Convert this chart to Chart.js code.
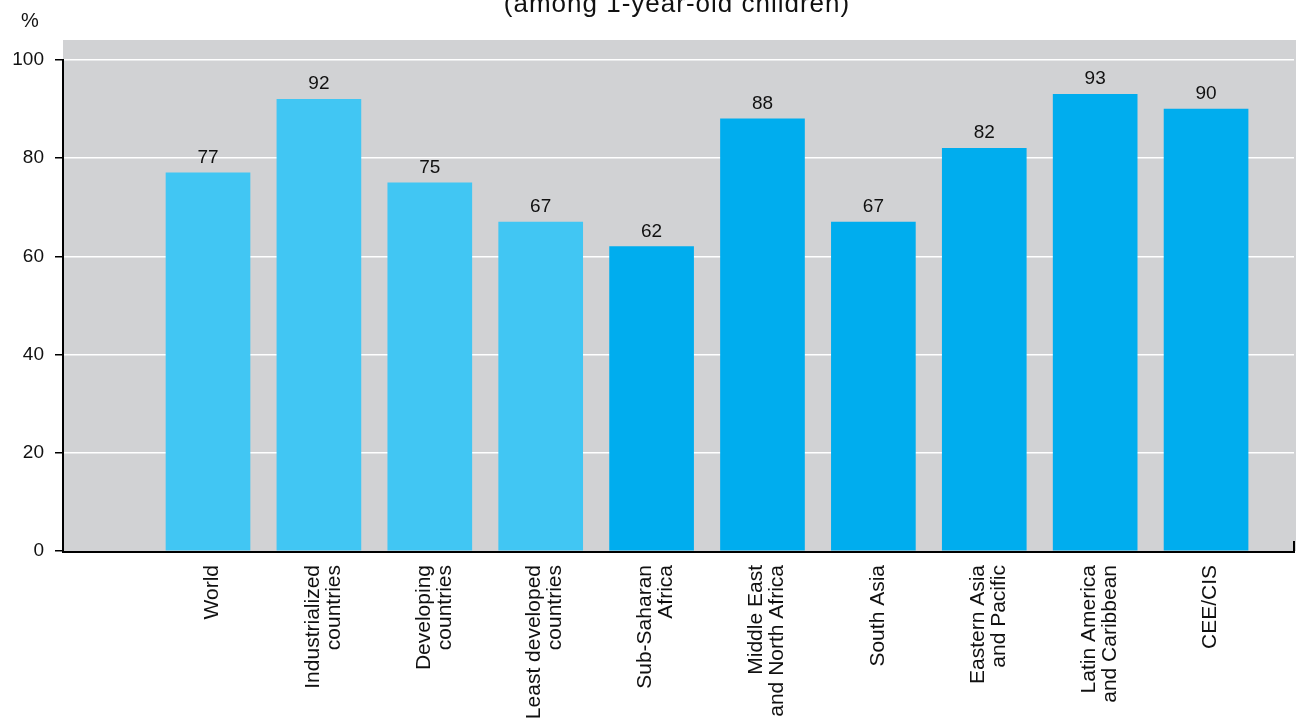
<!DOCTYPE html>
<html>
<head>
<meta charset="utf-8">
<script src="https://cdn.jsdelivr.net/npm/chart.js@4.4.1/dist/chart.umd.min.js"></script>
<style>
  html, body { margin: 0; padding: 0; background: #ffffff; }
  #wrap { width: 1296px; height: 719px; position: relative; }
</style>
</head>
<body>
<div id="wrap"><canvas id="c" width="1296" height="719"></canvas></div>
<script>
// ---- data ----
const categories = [
  ['World'],
  ['Industrialized', 'countries'],
  ['Developing', 'countries'],
  ['Least developed', 'countries'],
  ['Sub-Saharan', 'Africa'],
  ['Middle East', 'and North Africa'],
  ['South Asia'],
  ['Eastern Asia', 'and Pacific'],
  ['Latin America', 'and Caribbean'],
  ['CEE/CIS']
];
const values = [77, 92, 75, 67, 62, 88, 67, 82, 93, 90];
const groups = ['aggregate', 'aggregate', 'aggregate', 'aggregate',
                'region', 'region', 'region', 'region', 'region', 'region'];
const yTicks = [0, 20, 40, 60, 80, 100];
const titleText = '(among 1-year-old children)';
const unitText = '%';

// ---- styles ----
const FONT = '"Liberation Sans", Arial, Helvetica, sans-serif';
const groupColors = { aggregate: '#41C6F3', region: '#00ADEE' };
const plotGray = '#D1D2D4';

const points = values.map((v, i) => ({ x: i + 1, y: v }));

const decor = {
  id: 'decor',
  beforeDraw(chart) {
    const { ctx, chartArea: a } = chart;
    ctx.save();
    ctx.fillStyle = plotGray;
    ctx.fillRect(a.left, a.top - 20, chart.width - a.left, a.bottom - a.top + 20);
    ctx.restore();
  },
  afterDatasetsDraw(chart) {
    const { ctx, chartArea: a } = chart;
    ctx.save();
    // bottom axis line + right end tick
    ctx.strokeStyle = '#000';
    ctx.lineWidth = 2;
    ctx.beginPath();
    ctx.moveTo(a.left - 1, a.bottom + 1);
    ctx.lineTo(a.right + 1, a.bottom + 1);
    ctx.moveTo(a.right, a.bottom + 1);
    ctx.lineTo(a.right, a.bottom - 10);
    ctx.stroke();
    // value labels
    const meta = chart.getDatasetMeta(0);
    ctx.fillStyle = '#111';
    ctx.font = '19px ' + FONT;
    ctx.textAlign = 'center';
    ctx.textBaseline = 'alphabetic';
    meta.data.forEach((bar, i) => {
      ctx.fillText(String(values[i]), bar.x, bar.y - 10);
    });
    // title and unit
    ctx.font = '26px ' + FONT;
    try { ctx.letterSpacing = '1px'; } catch (e) {}
    ctx.fillText(titleText, 677, 12);
    try { ctx.letterSpacing = '0px'; } catch (e) {}
    ctx.font = '20px ' + FONT;
    ctx.fillText(unitText, 30, 27);
    ctx.restore();
  }
};

new Chart(document.getElementById('c'), {
  type: 'bar',
  data: {
    datasets: [{
      data: points,
      backgroundColor: groups.map(g => groupColors[g]),
      borderWidth: 0,
      barThickness: 84
    }]
  },
  options: {
    responsive: false,
    animation: false,
    events: [],
    layout: { padding: { top: 60, right: 2, left: 0, bottom: 0 } },
    plugins: { legend: { display: false }, tooltip: { enabled: false }, title: { display: false } },
    scales: {
      x: {
        type: 'linear',
        offset: false,
        min: -0.3076,
        max: 10.793,
        afterBuildTicks: s => { s.ticks = categories.map((c, i) => ({ value: i + 1 })); },
        afterFit: s => { s.height = 168; },
        grid: { display: true, offset: false, drawOnChartArea: false, drawTicks: true, tickLength: 10, color: 'rgba(0,0,0,0)' },
        border: { display: false },
        ticks: {
          autoSkip: false,
          minRotation: 90,
          maxRotation: 90,
          padding: 4,
          labelOffset: -6,
          color: '#111',
          font: ctx => {
            const lab = categories[ctx.index] || [];
            return { family: FONT, size: 21, lineHeight: lab.length === 1 ? 0.5 : 1.0 };
          },
          callback: v => {
            const lab = categories[v - 1];
            if (!lab) return '';
            return lab.length === 1 ? ['', lab[0]] : lab;
          }
        }
      },
      y: {
        min: 0,
        max: 100,
        afterBuildTicks: s => { s.ticks = yTicks.map(v => ({ value: v })); },
        afterFit: s => { s.width = 63; },
        grid: {
          color: ctx => (ctx.tick && ctx.tick.value === 0) ? 'rgba(0,0,0,0)' : '#ffffff',
          lineWidth: 1.5,
          tickColor: '#000',
          tickLength: 8,
          drawTicks: true
        },
        border: { display: true, color: '#000', width: 2 },
        ticks: {
          padding: 11,
          color: '#111',
          font: { family: FONT, size: 19 }
        }
      }
    }
  },
  plugins: [decor]
});
</script>
</body>
</html>
